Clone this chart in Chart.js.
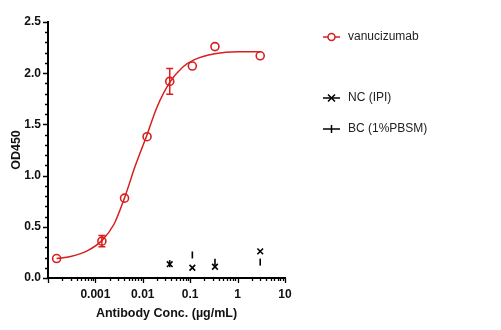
<!DOCTYPE html>
<html>
<head>
<meta charset="utf-8">
<script src="https://cdn.jsdelivr.net/npm/chart.js@4.4.1/dist/chart.umd.min.js"></script>
<style>
  html, body { margin: 0; padding: 0; background: #fff; }
  #wrap { width: 501px; height: 330px; position: relative; }
</style>
</head>
<body>
<div id="wrap"><canvas id="odChart" width="501" height="330"></canvas></div>
<script>
// Concentrations (ug/mL) and mean OD450 readings
const conc = [0.000152, 0.00137, 0.00412, 0.0123, 0.037, 0.111, 0.333, 3];
const vanuOD = [0.19, 0.36, 0.78, 1.38, 1.92, 2.07, 2.26, 2.17];
const vanuErr = [0, 0.055, 0, 0, 0.125, 0, 0, 0];

// Controls were only run at the top four concentrations
const ctrlConc = [0.037, 0.111, 0.333, 3];
const ncOD = [0.135, 0.10, 0.11, 0.26];
const bcOD = [0.14, 0.225, 0.155, 0.155];

// Fitted curve, sampled along the trace
const fitConc = [0.000152, 0.0003, 0.0007, 0.0014, 0.0025, 0.0041, 0.007, 0.0123, 0.02, 0.037, 0.07, 0.12, 0.33, 1, 3];
const fitOD = [0.19, 0.21, 0.27, 0.37, 0.53, 0.78, 1.10, 1.40, 1.67, 1.91, 2.06, 2.13, 2.19, 2.21, 2.21];

const xTickLabels = [0.001, 0.01, 0.1, 1, 10];

const RED = '#d81e1e';
const FONT = '"Liberation Sans", Arial, sans-serif';

const toXY = (xs, ys) => xs.map((x, i) => ({ x: x, y: ys[i] }));

// Error bars for the vanucizumab points
const errorBars = {
  id: 'errorBars',
  afterDatasetsDraw(chart) {
    const { ctx, scales: { x, y } } = chart;
    ctx.save();
    ctx.strokeStyle = RED;
    ctx.lineWidth = 1.5;
    conc.forEach((c, i) => {
      if (!vanuErr[i]) return;
      const px = x.getPixelForValue(c);
      const top = y.getPixelForValue(vanuOD[i] + vanuErr[i]);
      const bot = y.getPixelForValue(vanuOD[i] - vanuErr[i]);
      ctx.beginPath();
      ctx.moveTo(px, top); ctx.lineTo(px, bot);
      ctx.moveTo(px - 3.5, top); ctx.lineTo(px + 3.5, top);
      ctx.moveTo(px - 3.5, bot); ctx.lineTo(px + 3.5, bot);
      ctx.stroke();
    });
    ctx.restore();
  }
};

// Major and minor tick marks on both axes
const axisTicks = {
  id: 'axisTicks',
  afterDraw(chart) {
    const { ctx, chartArea, scales: { x, y } } = chart;
    ctx.save();
    ctx.strokeStyle = '#000';
    ctx.lineWidth = 1.3;
    ctx.beginPath();
    for (let d = -4; d <= 1; d++) {
      for (let k = 1; k <= 9; k++) {
        const v = k * Math.pow(10, d);
        if (v < x.min * 0.999 || v > x.max * 1.001) continue;
        const px = Math.round(x.getPixelForValue(v)) + 0.5;
        const len = k === 1 ? 5 : 3;
        ctx.moveTo(px, chartArea.bottom);
        ctx.lineTo(px, chartArea.bottom + len);
      }
    }
    for (let i = 0; i <= 25; i++) {
      const py = Math.round(y.getPixelForValue(i / 10)) + 0.5;
      const len = i % 5 === 0 ? 5 : 3;
      ctx.moveTo(chartArea.left, py);
      ctx.lineTo(chartArea.left - len, py);
    }
    ctx.stroke();
    ctx.restore();
  }
};

// Legend to the right of the plot
const sideLegend = {
  id: 'sideLegend',
  afterDraw(chart) {
    const { ctx } = chart;
    const rows = [
      { label: 'vanucizumab', color: RED, y: 37, mark: 'circle' },
      { label: 'NC (IPI)', color: '#000', y: 98, mark: 'cross' },
      { label: 'BC (1%PBSM)', color: '#000', y: 129, mark: 'bar' }
    ];
    ctx.save();
    ctx.font = '12px ' + FONT;
    ctx.textBaseline = 'middle';
    rows.forEach(r => {
      const cx = 331.5;
      ctx.strokeStyle = r.color;
      ctx.lineWidth = 1.5;
      ctx.beginPath();
      ctx.moveTo(323, r.y); ctx.lineTo(340, r.y);
      ctx.stroke();
      ctx.beginPath();
      if (r.mark === 'circle') {
        ctx.fillStyle = '#fff';
        ctx.arc(cx, r.y, 3.5, 0, Math.PI * 2);
        ctx.fill();
        ctx.stroke();
      } else if (r.mark === 'cross') {
        ctx.moveTo(cx - 3.5, r.y - 3.5); ctx.lineTo(cx + 3.5, r.y + 3.5);
        ctx.moveTo(cx + 3.5, r.y - 3.5); ctx.lineTo(cx - 3.5, r.y + 3.5);
        ctx.stroke();
      } else {
        ctx.moveTo(cx, r.y - 4); ctx.lineTo(cx, r.y + 4);
        ctx.stroke();
      }
      ctx.fillStyle = '#222';
      ctx.fillText(r.label, 348, r.y);
    });
    ctx.restore();
  }
};

const whiteBg = {
  id: 'whiteBg',
  beforeDraw(chart) {
    const { ctx } = chart;
    ctx.save();
    ctx.fillStyle = '#fff';
    ctx.fillRect(0, 0, chart.width, chart.height);
    ctx.restore();
  }
};

new Chart(document.getElementById('odChart').getContext('2d'), {
  type: 'scatter',
  data: {
    datasets: [
      {
        label: 'fit',
        data: toXY(fitConc, fitOD),
        showLine: true,
        borderColor: RED,
        borderWidth: 1.5,
        pointRadius: 0,
        cubicInterpolationMode: 'monotone',
        fill: false
      },
      {
        label: 'vanucizumab',
        data: toXY(conc, vanuOD),
        pointStyle: 'circle',
        pointRadius: 4,
        borderColor: RED,
        backgroundColor: 'rgba(255,255,255,0)',
        pointBorderWidth: 1.6
      },
      {
        label: 'NC (IPI)',
        data: toXY(ctrlConc, ncOD),
        pointStyle: 'crossRot',
        pointRadius: 4,
        borderColor: '#000',
        pointBorderWidth: 1.6
      },
      {
        label: 'BC (1%PBSM)',
        data: toXY(ctrlConc, bcOD),
        pointStyle: 'line',
        rotation: 90,
        pointRadius: 3.5,
        borderColor: '#000',
        pointBorderWidth: 1.6
      }
    ]
  },
  options: {
    responsive: false,
    animation: false,
    layout: { padding: { left: 5, top: 22, right: 216, bottom: 5 } },
    plugins: {
      legend: { display: false },
      tooltip: { enabled: false }
    },
    scales: {
      x: {
        type: 'logarithmic',
        min: 0.0001,
        max: 10,
        grid: { display: false, drawTicks: false },
        border: { display: true, color: '#000', width: 2 },
        afterBuildTicks: scale => {
          scale.ticks = xTickLabels.map(v => ({ value: v }));
        },
        afterFit: scale => { scale.height = 47; },
        ticks: {
          color: '#111',
          padding: 9,
          maxRotation: 0,
          autoSkip: false,
          font: { family: FONT, size: 12, weight: 'bold' },
          callback: v => String(v)
        },
        title: {
          display: true,
          text: 'Antibody Conc. (µg/mL)',
          color: '#111',
          padding: { top: 4 },
          font: { family: FONT, size: 12.5, weight: 'bold' }
        }
      },
      y: {
        min: 0,
        max: 2.5,
        grid: { display: false, drawTicks: false },
        border: { display: true, color: '#000', width: 2 },
        afterFit: scale => { scale.width = 43; },
        ticks: {
          stepSize: 0.5,
          color: '#111',
          padding: 7,
          font: { family: FONT, size: 12, weight: 'bold' },
          callback: v => v.toFixed(1)
        },
        title: {
          display: true,
          text: 'OD450',
          color: '#111',
          padding: { bottom: 2 },
          font: { family: FONT, size: 12.5, weight: 'bold' }
        }
      }
    }
  },
  plugins: [whiteBg, errorBars, axisTicks, sideLegend]
});
</script>
</body>
</html>
